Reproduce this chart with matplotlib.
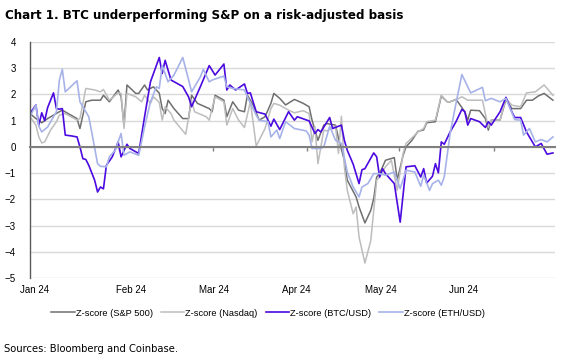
import matplotlib
matplotlib.use('Agg')
import matplotlib.pyplot as plt

# Days since 2 Jan 2024 and z-scores
spx_day = [0, 2, 3, 4, 6, 8, 10, 11, 13, 16, 17, 19, 21, 24, 25, 27, 30, 31, 32, 33,
           36, 37, 39, 40, 42, 44, 45, 46, 47, 49, 52, 54, 55, 57, 61, 62, 63, 66, 67, 69,
           71, 73, 74, 76, 78, 80, 82, 83, 85, 87, 90, 93, 95, 96, 98, 100, 101, 104, 105, 107,
           108, 111, 112, 114, 116, 117, 118, 119, 121, 124, 125, 127, 128, 130, 132, 134, 135, 138, 140, 142,
           143, 145, 146, 148, 149, 150, 153, 155, 156, 157, 160, 162, 164, 167, 169, 171, 173, 175, 178]
spx = [1.27, 1.08, 1.02, 0.92, 1.08, 1.21, 1.34, 1.40, 1.27, 1.08, 0.70, 1.72, 1.78, 1.78, 1.97, 1.72, 2.17, 1.91, 0.83, 2.36,
       2.04, 2.04, 2.36, 2.17, 2.29, 2.05, 1.46, 1.27, 1.78, 1.46, 1.08, 1.08, 1.97, 1.66, 1.46, 1.34, 1.97, 1.78, 1.15, 1.72,
       1.40, 1.34, 1.97, 1.59, 1.02, 1.15, 1.66, 2.04, 1.85, 1.60, 1.81, 1.66, 1.53, 1.02, 0.25, 0.83, 0.89, 0.83, 0.32, -0.51,
       -1.27, -1.91, -2.29, -2.90, -2.42, -1.97, -1.15, -1.02, -0.51, -0.41, -1.27, -0.32, 0.00, 0.25, 0.59, 0.65, 0.92, 0.96, 1.94, 1.72,
       1.72, 1.81, 1.66, 1.34, 1.02, 1.40, 1.38, 1.08, 0.64, 1.02, 1.02, 1.81, 1.46, 1.46, 1.78, 1.78, 1.94, 2.04, 1.78]

ndx_day = [0, 2, 3, 4, 5, 7, 9, 10, 12, 16, 17, 19, 22, 24, 25, 27, 30, 31, 32, 33,
           36, 38, 39, 41, 42, 44, 45, 46, 48, 49, 53, 55, 56, 60, 61, 63, 66, 67, 69, 71,
           73, 75, 76, 77, 80, 82, 83, 85, 88, 90, 93, 95, 96, 97, 98, 100, 101, 104, 105, 106,
           107, 108, 110, 111, 112, 114, 116, 117, 118, 119, 121, 123, 125, 127, 128, 131, 132, 134, 135, 138,
           140, 142, 143, 146, 147, 149, 154, 156, 157, 160, 162, 164, 167, 169, 172, 175, 178]
ndx = [1.15, 0.83, 0.38, 0.15, 0.19, 0.64, 0.96, 1.21, 1.27, 1.02, 1.08, 2.23, 2.17, 2.10, 2.19, 1.78, 2.06, 2.04, 0.70, 2.04,
       1.91, 1.72, 1.97, 1.66, 1.91, 1.70, 1.02, 1.53, 1.27, 1.02, 0.48, 1.78, 1.34, 1.15, 1.02, 1.91, 1.72, 0.83, 1.46, 1.02,
       0.74, 1.72, 0.89, 0.03, 0.70, 1.46, 1.66, 1.59, 1.40, 1.30, 1.38, 1.27, 0.19, 0.76, -0.64, 0.64, 0.61, 0.79, -0.25, 1.17,
       -0.76, -1.66, -2.55, -2.29, -3.44, -4.43, -3.57, -2.42, -1.27, -1.15, -0.76, -0.51, -1.66, -0.25, 0.13, 0.45, 0.57, 0.70, 0.96, 1.02,
       1.97, 1.72, 1.72, 1.85, 1.91, 1.78, 1.78, 0.74, 1.02, 1.02, 1.85, 1.59, 1.53, 2.06, 2.10, 2.36, 1.97]

btc_day = [0, 2, 3, 4, 5, 6, 8, 9, 10, 11, 12, 14, 16, 17, 18, 19, 20, 22, 23, 24,
           25, 26, 28, 30, 31, 33, 34, 37, 39, 41, 44, 45, 46, 48, 52, 54, 55, 58, 61, 63,
           66, 67, 68, 70, 73, 74, 75, 77, 80, 82, 83, 85, 88, 90, 91, 95, 97, 98, 99, 102,
           103, 106, 107, 108, 110, 112, 113, 114, 117, 118, 119, 120, 121, 124, 126, 128, 131, 133, 134, 135,
           137, 138, 139, 140, 141, 143, 145, 147, 148, 149, 150, 153, 155, 156, 157, 160, 162, 164, 165, 167,
           169, 170, 172, 174, 176, 178]
btc = [1.27, 1.60, 0.83, 1.30, 1.00, 1.50, 2.06, 1.46, 1.44, 1.46, 0.45, 0.42, 0.38, 0.00, -0.45, -0.48, -0.70, -1.27, -1.72, -1.53,
       -1.60, -0.70, -0.38, 0.19, -0.38, 0.10, -0.06, -0.25, 1.15, 2.48, 3.41, 2.80, 3.30, 2.55, 2.30, 1.90, 1.53, 2.30, 3.10, 2.74,
       3.16, 2.17, 2.36, 2.17, 2.40, 2.04, 2.06, 1.34, 1.25, 0.79, 1.06, 0.66, 1.34, 1.02, 1.15, 0.99, 0.51, 0.66, 0.57, 1.12,
       0.70, 0.83, 0.25, -0.13, -0.66, -1.40, -0.87, -0.83, -0.23, -0.38, -1.15, -0.83, -1.02, -1.40, -2.87, -0.76, -0.72, -1.15, -0.83, -1.38,
       -1.12, -0.64, -0.99, 0.19, 0.10, 0.57, 0.96, 1.43, 1.34, 0.83, 1.08, 0.96, 0.74, 0.96, 0.83, 1.34, 1.89, 1.34, 1.12, 1.12,
       0.57, 0.38, 0.00, 0.13, -0.28, -0.23]

eth_day = [0, 2, 3, 4, 6, 8, 9, 10, 11, 12, 16, 17, 20, 21, 23, 24, 26, 27, 29, 31,
           32, 34, 37, 39, 41, 43, 44, 45, 47, 49, 52, 54, 55, 58, 59, 61, 62, 66, 67, 69,
           73, 74, 77, 78, 81, 82, 84, 85, 87, 90, 94, 95, 96, 99, 100, 102, 104, 106, 108, 110,
           112, 113, 115, 117, 119, 121, 124, 126, 128, 131, 133, 134, 136, 137, 139, 140, 141, 143, 145, 147,
           150, 154, 155, 157, 160, 162, 165, 167, 168, 170, 172, 174, 176, 178]
eth = [1.15, 1.60, 0.79, 0.57, 0.76, 1.15, 1.34, 2.55, 2.96, 2.10, 2.52, 1.72, 1.15, 0.57, -0.64, -0.74, -0.76, -0.38, -0.13, 0.51,
       -0.32, -0.19, -0.32, 0.76, 1.72, 2.29, 2.23, 3.10, 2.48, 2.74, 3.41, 2.55, 2.10, 2.67, 2.96, 2.48, 2.55, 2.70, 2.29, 2.23,
       2.17, 1.91, 1.21, 1.02, 0.96, 0.38, 0.64, 0.32, 0.96, 0.70, 0.61, 0.45, -0.06, -0.06, 0.00, 0.79, 0.25, 0.13, -0.96, -1.53,
       -1.91, -1.53, -1.40, -1.02, -1.02, -1.08, -0.96, -1.59, -0.89, -0.96, -1.50, -1.08, -1.66, -1.40, -1.27, -1.46, -1.15, 0.51, 1.66, 2.76,
       2.06, 2.27, 1.76, 1.85, 1.72, 1.85, 1.04, 1.02, 0.45, 0.70, 0.19, 0.28, 0.19, 0.38]

month_labels = ['Jan 24', 'Feb 24', 'Mar 24', 'Apr 24', 'May 24', 'Jun 24']
month_pos = [1.4, 34.4, 62.6, 90.8, 119.4, 147.6]
tick_pos = [30.4, 62.2, 94.2, 125.5, 157.8]

label_font = ['Liberation Sans', 'DejaVu Sans']

fig = plt.figure(figsize=(5.7, 3.63), dpi=100)
ax = fig.add_axes([30 / 570, 1 - 278 / 363, 525 / 570, 236 / 363])

ax.plot(spx_day, spx, color='#6f6f6f', lw=1.1, label='Z-score (S&P 500)')
ax.plot(ndx_day, ndx, color='#bdbdbd', lw=1.1, label='Z-score (Nasdaq)')
ax.plot(btc_day, btc, color='#4c0ae0', lw=1.2, label='Z-score (BTC/USD)')
ax.plot(eth_day, eth, color='#a7b3e8', lw=1.2, label='Z-score (ETH/USD)')

ax.set_xlim(0, 178.7)
ax.set_ylim(-5, 4)
ax.set_yticks(range(-5, 5))
ax.grid(axis='y', color='#d9d9d9', lw=1)
ax.set_axisbelow(True)

for s in ['top', 'right']:
    ax.spines[s].set_visible(False)
ax.spines['left'].set_color('#5a5a5a')
ax.spines['left'].set_linewidth(1)
# Excel-style horizontal axis crossing at zero
ax.spines['bottom'].set_position(('data', 0))
ax.spines['bottom'].set_color('#7f7f7f')
ax.spines['bottom'].set_linewidth(1.5)

ax.set_xticks(tick_pos)
ax.tick_params(axis='x', direction='out', length=3, width=1, color='#7f7f7f', labelbottom=False)
ax.tick_params(axis='y', length=0, pad=10)
for lab in ax.get_yticklabels():
    lab.set_family(label_font)
    lab.set_fontsize(7)

# month labels sit at the bottom of the plot, below -5
sec = ax.secondary_xaxis('bottom')
sec.set_xticks(month_pos, month_labels)
sec.tick_params(length=0, pad=5)
sec.spines['bottom'].set_visible(False)
for lab in sec.get_xticklabels():
    lab.set_family(label_font)
    lab.set_fontsize(7)

handles, labels = ax.get_legend_handles_labels()
fig.legend(handles, labels, loc='center', bbox_to_anchor=(268 / 570, 1 - 313 / 363), ncol=4,
           frameon=False, prop={'family': label_font, 'size': 6.7}, handlelength=2.5,
           handletextpad=0.1, columnspacing=0.9)

fig.text(5 / 570, 1 - 15 / 363, 'Chart 1. BTC underperforming S&P on a risk-adjusted basis',
         fontsize=8.6, fontweight='bold', family='DejaVu Sans', va='center', ha='left')
fig.text(4 / 570, 1 - 349 / 363, 'Sources: Bloomberg and Coinbase.',
         fontsize=7.2, family='DejaVu Sans', va='center', ha='left')

fig.savefig('out.png', dpi=100)
